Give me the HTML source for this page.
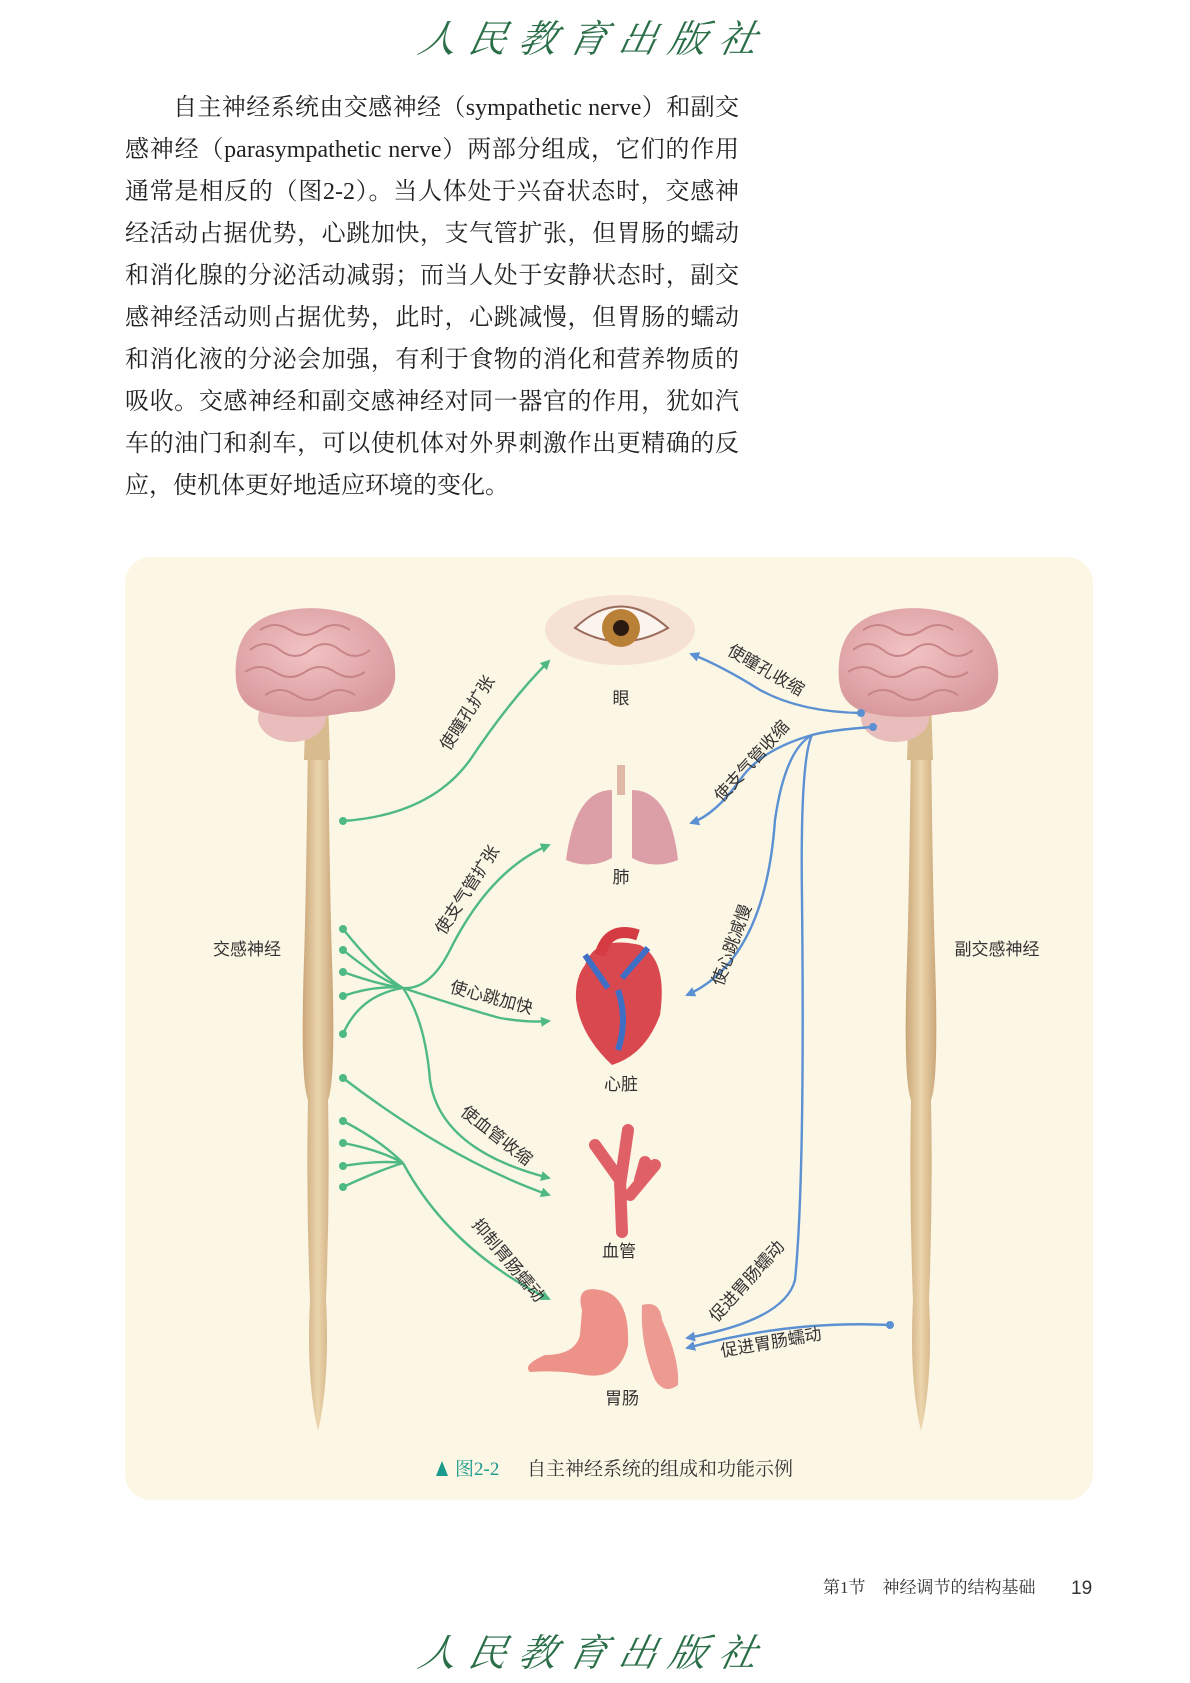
<!DOCTYPE html>
<html><head><meta charset="utf-8">
<style>
html,body{margin:0;padding:0;background:#fff;}
body{width:1190px;height:1683px;position:relative;overflow:hidden;font-family:"Liberation Serif","Noto Serif CJK SC",serif;}
.logo{position:absolute;left:0;width:1190px;text-align:center;font-family:"Noto Serif CJK SC",serif;font-style:italic;font-size:38px;letter-spacing:12px;color:#2a6e48;transform:skewX(-12deg);}
.para{position:absolute;left:125px;width:614px;font-size:24px;color:#222;}
.para div{height:42px;line-height:42px;text-align:justify;text-align-last:justify;white-space:nowrap;}
.panel{position:absolute;left:125px;top:557px;width:968px;height:943px;background:#fcf6e5;border-radius:26px;}
svg text{font-family:"Liberation Sans","Noto Sans CJK SC",sans-serif;}
</style></head><body>
<div class="logo" style="top:8px;">人民教育出版社</div>
<div class="para" style="top:87px;">
<div style="padding-left:48px">自主神经系统由交感神经（sympathetic nerve）和副交</div>
<div>感神经（parasympathetic nerve）两部分组成，它们的作用</div>
<div>通常是相反的（图2-2）。当人体处于兴奋状态时，交感神</div>
<div>经活动占据优势，心跳加快，支气管扩张，但胃肠的蠕动</div>
<div>和消化腺的分泌活动减弱；而当人处于安静状态时，副交</div>
<div>感神经活动则占据优势，此时，心跳减慢，但胃肠的蠕动</div>
<div>和消化液的分泌会加强，有利于食物的消化和营养物质的</div>
<div>吸收。交感神经和副交感神经对同一器官的作用，犹如汽</div>
<div>车的油门和刹车，可以使机体对外界刺激作出更精确的反</div>
<div style="text-align-last:left">应，使机体更好地适应环境的变化。</div>
</div>
<div class="panel"></div>
<svg width="1190" height="1683" viewBox="0 0 1190 1683" style="position:absolute;left:0;top:0">
<defs>
<marker id="ga" markerWidth="10" markerHeight="10" refX="8" refY="5" orient="auto" markerUnits="userSpaceOnUse"><path d="M0,0 L10,5 L0,10 z" fill="#4fb985"/></marker>
<marker id="ba" markerWidth="10" markerHeight="10" refX="8" refY="5" orient="auto" markerUnits="userSpaceOnUse"><path d="M0,0 L10,5 L0,10 z" fill="#5b90d2"/></marker>
<radialGradient id="br" cx="45%" cy="40%" r="60%"><stop offset="0" stop-color="#f2c3c3"/><stop offset="1" stop-color="#d99a9e"/></radialGradient>
<linearGradient id="cord" x1="0" x2="1"><stop offset="0" stop-color="#c9a679"/><stop offset=".5" stop-color="#ecd5ad"/><stop offset="1" stop-color="#c9a679"/></linearGradient>
<g id="brain">
<path d="M306,700 L304,760 L330,760 L328,700 z" fill="#d8bc8f"/>
<ellipse cx="292" cy="718" rx="34" ry="24" fill="#e8bdbc"/>
<path d="M236,680 Q232,630 270,615 Q315,600 360,618 Q398,640 395,680 Q390,712 350,712 Q300,722 262,712 Q238,705 236,680 z" fill="url(#br)"/>
<path d="M250,650 q15,-12 30,0 t30,0 t30,0 t30,0 M245,672 q15,-10 30,0 t30,0 t30,0 t30,0 M260,630 q15,-10 30,0 t30,0 t30,0 M265,695 q15,-10 30,0 t30,0 t30,0" stroke="#c88589" stroke-width="2" fill="none"/>
</g>
</defs>
<!-- left brain/cord -->
<g>
<path d="M308,740 Q306,900 304,960 Q300,1080 308,1100 Q306,1200 310,1300 Q306,1380 318,1431 Q330,1380 326,1300 Q330,1200 328,1100 Q336,1080 332,960 Q330,900 328,740 z" fill="url(#cord)"/>
<use href="#brain"/>
</g>
<g transform="translate(603,0)">
<path d="M308,740 Q306,900 304,960 Q300,1080 308,1100 Q306,1200 310,1300 Q306,1380 318,1431 Q330,1380 326,1300 Q330,1200 328,1100 Q336,1080 332,960 Q330,900 328,740 z" fill="url(#cord)"/>
<use href="#brain"/>
</g>
<!-- eye -->
<ellipse cx="620" cy="630" rx="75" ry="35" fill="#f4d9cf" opacity=".7"/>
<path d="M575,628 Q620,585 668,628 Q620,655 575,628 z" fill="#fbf3ee" stroke="#9a6a5a" stroke-width="2"/>
<circle cx="621" cy="628" r="19" fill="#b98038"/>
<circle cx="621" cy="628" r="8" fill="#2a1a10"/>
<!-- lungs -->
<rect x="617" y="765" width="8" height="30" fill="#e0b8a8"/>
<path d="M612,790 Q575,790 566,860 Q590,870 612,858 z" fill="#dc9fa7"/>
<path d="M632,790 Q670,790 678,860 Q654,870 632,858 z" fill="#dc9fa7"/>
<!-- heart -->
<path d="M585,965 Q595,935 640,945 Q668,960 660,1015 Q645,1055 612,1065 Q580,1035 576,1000 Q575,978 585,965 z" fill="#d9484f"/>
<path d="M600,955 Q608,925 638,935" stroke="#d43b42" stroke-width="11" fill="none"/>
<path d="M585,955 L608,988 M648,948 L622,978 M618,990 Q628,1020 618,1050" stroke="#3e6fc4" stroke-width="6" fill="none"/>
<!-- vessel -->
<path d="M622,1232 L620,1180 L595,1145 M620,1185 L628,1130 M630,1195 L655,1165 M640,1180 L645,1162" stroke="#e06068" stroke-width="12" stroke-linecap="round" fill="none"/>
<!-- stomach -->
<path d="M582,1310 Q575,1285 600,1290 Q630,1295 628,1345 Q620,1380 585,1375 Q560,1370 530,1372 Q522,1365 545,1355 Q575,1355 580,1335 z" fill="#ec9289"/>
<path d="M642,1305 Q660,1300 662,1320 Q680,1360 678,1385 Q665,1395 655,1380 Q640,1345 642,1305 z" fill="#ec9a92"/>
<!-- green lines -->
<g stroke="#4fb985" stroke-width="2.4" fill="none">
<path d="M343,821 Q430,815 470,760 Q510,700 549,661" marker-end="url(#ga)"/>
<path d="M343,929 Q380,975 403,988 M343,950 Q380,980 403,988 M343,972 Q380,985 403,988 M343,996 Q375,985 403,988 M343,1034 Q360,995 403,988"/>
<path d="M403,988 Q430,990 450,950 Q490,870 549,845" marker-end="url(#ga)"/>
<path d="M403,988 Q470,1010 500,1018 Q530,1023 549,1021" marker-end="url(#ga)"/>
<path d="M403,988 Q425,1020 430,1080 Q440,1150 549,1178" marker-end="url(#ga)"/>
<path d="M343,1078 Q450,1160 549,1195" marker-end="url(#ga)"/>
<path d="M343,1121 Q380,1140 403,1163 M343,1143 Q380,1150 403,1163 M343,1166 Q380,1160 403,1163 M343,1187 Q380,1170 403,1163"/>
<path d="M403,1163 Q450,1250 549,1299" marker-end="url(#ga)"/>
</g>
<g fill="#4fb985"><circle cx="343" cy="821" r="4"/><circle cx="343" cy="929" r="4"/><circle cx="343" cy="950" r="4"/><circle cx="343" cy="972" r="4"/><circle cx="343" cy="996" r="4"/><circle cx="343" cy="1034" r="4"/><circle cx="343" cy="1078" r="4"/><circle cx="343" cy="1121" r="4"/><circle cx="343" cy="1143" r="4"/><circle cx="343" cy="1166" r="4"/><circle cx="343" cy="1187" r="4"/></g>
<!-- blue lines -->
<g stroke="#5b90d2" stroke-width="2.4" fill="none">
<path d="M861,713 Q800,712 760,690 Q720,665 691,654" marker-end="url(#ba)"/>
<path d="M873,727 Q830,730 812,735 Q760,750 740,780 Q715,815 691,823" marker-end="url(#ba)"/>
<path d="M812,735 Q785,750 775,820 Q765,960 687,995" marker-end="url(#ba)"/>
<path d="M812,735 Q800,760 802,900 Q805,1180 795,1280 Q785,1320 687,1338" marker-end="url(#ba)"/>
<path d="M890,1325 Q790,1320 687,1348" marker-end="url(#ba)"/>
</g>
<g fill="#5b90d2"><circle cx="861" cy="713" r="4"/><circle cx="873" cy="727" r="4"/><circle cx="890" cy="1325" r="4"/></g>
<!-- labels -->
<g font-size="17" fill="#333">
<text x="621" y="704" text-anchor="middle">眼</text>
<text x="621" y="883" text-anchor="middle">肺</text>
<text x="621" y="1090" text-anchor="middle">心脏</text>
<text x="619" y="1257" text-anchor="middle">血管</text>
<text x="622" y="1404" text-anchor="middle">胃肠</text>
<text x="247" y="955" text-anchor="middle">交感神经</text>
<text x="997" y="955" text-anchor="middle">副交感神经</text>
<text transform="translate(472,716) rotate(-57)" text-anchor="middle">使瞳孔扩张</text>
<text transform="translate(472,893) rotate(-57)" text-anchor="middle">使支气管扩张</text>
<text transform="translate(490,1003) rotate(15)" text-anchor="middle">使心跳加快</text>
<text transform="translate(493,1140) rotate(38)" text-anchor="middle">使血管收缩</text>
<text transform="translate(504,1264) rotate(50)" text-anchor="middle">抑制胃肠蠕动</text>
<text transform="translate(763,675) rotate(30)" text-anchor="middle">使瞳孔收缩</text>
<text transform="translate(756,765) rotate(-48)" text-anchor="middle">使支气管收缩</text>
<text transform="translate(737,947) rotate(-70)" text-anchor="middle">使心跳减慢</text>
<text transform="translate(751,1285) rotate(-48)" text-anchor="middle">促进胃肠蠕动</text>
<text transform="translate(772,1348) rotate(-10)" text-anchor="middle">促进胃肠蠕动</text>
</g>
<!-- caption -->
<path d="M436,1476 L442,1461 L448,1476 z" fill="#1a9a8c"/>
<text x="455" y="1475" font-size="19" fill="#1a9a8c" style="font-family:'Liberation Serif','Noto Serif CJK SC',serif">图2-2</text>
<text x="527" y="1475" font-size="19" fill="#333" style="font-family:'Liberation Serif','Noto Serif CJK SC',serif">自主神经系统的组成和功能示例</text>
<text x="823" y="1593" font-size="17" fill="#333" style="font-family:'Liberation Serif','Noto Serif CJK SC',serif">第1节　神经调节的结构基础</text>
<text x="1071" y="1594" font-size="19" fill="#333">19</text>
</svg>
<div class="logo" style="top:1622px;">人民教育出版社</div>
</body></html>
